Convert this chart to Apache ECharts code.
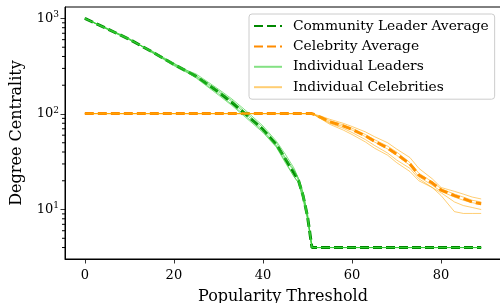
<!DOCTYPE html>
<html>
<head>
<meta charset="utf-8">
<script src="https://cdn.jsdelivr.net/npm/echarts@6/dist/echarts.min.js"></script>
<style>
  html, body { margin: 0; padding: 0; background: #fff; }
  #chart { width: 500px; height: 303px; }
</style>
</head>
<body>
<div id="chart"></div>
<script>
// leader curves, sampled at these thresholds
var leaderX = [0, 5, 10, 15, 20, 25, 30, 33, 36, 40, 43, 45, 47, 48, 49, 50, 51, 89];
var leaderAvg = [1000, 780, 605, 450, 330, 248, 170, 132, 101, 69, 48, 34, 24, 20, 14, 8.5, 4, 4];
var leaderRuns = [
  [1000, 770, 598, 455, 325, 262, 182, 144, 110, 75, 52, 38, 27, 21, 15, 9, 4, 4],
  [1000, 790, 615, 440, 338, 238, 158, 123, 93, 64, 45, 31, 22, 19, 13, 8, 4, 4],
  [1000, 780, 600, 460, 340, 252, 176, 139, 105, 72, 50, 35, 26, 21, 15, 9, 4, 4],
  [1000, 785, 612, 445, 320, 242, 163, 126, 96, 66, 46, 32, 22, 19, 13, 8, 4, 4],
  [1000, 775, 605, 450, 330, 248, 170, 134, 101, 68, 47, 34, 25, 20, 14, 8.5, 4, 4]
];

// celebrity curves
var celebX = [0, 51, 53, 55, 58, 60, 63, 65, 68, 70, 73, 75, 78, 80, 83, 85, 87, 89];
var celebAvg = [101, 101, 92, 83, 75, 69, 59, 52, 44, 38, 30, 23, 19, 16, 14, 13, 12, 11.5];
var celebRuns = [
  [101, 101, 95, 88, 80, 74, 65, 58, 50, 43, 35, 27, 21, 17, 15.5, 14.5, 13.5, 12.9],
  [101, 101, 93, 85, 77, 71, 61, 54, 46, 40, 31, 24, 19.5, 16.5, 14.5, 13.5, 12.5, 12],
  [101, 101, 91, 82, 74, 68, 58, 51, 43, 37, 29, 22, 18, 15.5, 13.5, 12.5, 11.8, 11.3],
  [101, 101, 90, 80, 71, 64, 54, 47, 39, 33, 27, 21, 17, 15, 12, 11, 10.5, 10],
  [101, 101, 89, 78, 68, 61, 51, 44, 37, 31, 25, 20, 17, 14, 9.5, 9.1, 9.1, 9.1]
];

var yMinorTicks = [4, 5, 6, 7, 8, 9, 20, 30, 40, 50, 60, 70, 80, 90, 200, 300, 400, 500, 600, 700, 800, 900];

var xMin = -4.45, xMax = 93.45;
var yMin = 3.035, yMax = 1318;

var serif = 'DejaVu Serif';
var chart = echarts.init(document.getElementById('chart'));

function pairs(xs, ys) {
  return xs.map(function (x, i) { return [x, ys[i]]; });
}

var series = [
  {
    name: 'Community Leader Average',
    type: 'line',
    symbol: 'none',
    data: pairs(leaderX, leaderAvg),
    lineStyle: { color: '#008800', width: 3, type: [9, 4] },
    itemStyle: { color: '#008800' }
  },
  {
    name: 'Celebrity Average',
    type: 'line',
    symbol: 'none',
    data: pairs(celebX, celebAvg),
    lineStyle: { color: '#ff8c00', width: 3, type: [9, 4] },
    itemStyle: { color: '#ff8c00' }
  }
];
leaderRuns.forEach(function (run) {
  series.push({
    name: 'Individual Leaders',
    type: 'line',
    symbol: 'none',
    data: pairs(leaderX, run),
    lineStyle: { color: 'rgba(50,205,50,0.6)', width: 1 },
    itemStyle: { color: 'rgba(50,205,50,0.6)' }
  });
});
celebRuns.forEach(function (run) {
  series.push({
    name: 'Individual Celebrities',
    type: 'line',
    symbol: 'none',
    data: pairs(celebX, run),
    lineStyle: { color: 'rgba(255,165,0,0.55)', width: 1 },
    itemStyle: { color: 'rgba(255,165,0,0.55)' }
  });
});
// log minor ticks on the left spine
series.push({
  type: 'custom',
  silent: true,
  clip: false,
  z: 5,
  data: yMinorTicks.map(function (v) { return [xMin, v]; }),
  renderItem: function (params, api) {
    var p = api.coord([api.value(0), api.value(1)]);
    return {
      type: 'line',
      shape: { x1: p[0] - 3, y1: p[1], x2: p[0], y2: p[1] },
      style: { stroke: '#000', lineWidth: 1 }
    };
  }
});

var option = {
  animation: false,
  grid: {
    left: 65, right: -1, top: 7, bottom: 44,
    outerBoundsMode: 'none',
    containLabel: false,
    show: true, borderColor: '#000', borderWidth: 1, backgroundColor: 'transparent'
  },
  legend: {
    data: ['Community Leader Average', 'Celebrity Average', 'Individual Leaders', 'Individual Celebrities'],
    orient: 'vertical',
    left: 249, top: 14,
    itemWidth: 28, itemHeight: 14, itemGap: 6.4,
    padding: [5, 6, 5, 4],
    backgroundColor: 'rgba(255,255,255,0.8)',
    borderColor: '#cccccc', borderWidth: 1, borderRadius: 3,
    itemStyle: { opacity: 0 },
    textStyle: { fontFamily: serif, fontSize: 13.8, color: '#000', padding: [0, 0, 0, 6] }
  },
  xAxis: {
    type: 'value',
    min: xMin, max: xMax,
    splitNumber: 5,
    name: 'Popularity Threshold',
    nameLocation: 'middle',
    nameGap: 30,
    nameTextStyle: { fontFamily: serif, fontSize: 16, color: '#000' },
    axisLine: { show: true, onZero: false, lineStyle: { color: '#000', width: 1 } },
    axisTick: { show: true, inside: false, length: 4.5, lineStyle: { color: '#000', width: 0.8 } },
    axisLabel: { fontFamily: serif, fontSize: 13, color: '#000', margin: 10, showMinLabel: false, showMaxLabel: false },
    splitLine: { show: false }
  },
  yAxis: {
    type: 'log',
    logBase: 10,
    min: yMin, max: yMax,
    name: 'Degree Centrality',
    nameLocation: 'middle',
    nameGap: 40,
    nameTextStyle: { fontFamily: serif, fontSize: 16, color: '#000' },
    axisLine: { show: true, onZero: false, lineStyle: { color: '#000', width: 1 } },
    axisTick: { show: true, inside: false, length: 4.5, lineStyle: { color: '#000', width: 0.8 } },
    axisLabel: {
      fontFamily: serif, fontSize: 13, color: '#000', margin: 6,
      showMinLabel: false, showMaxLabel: false,
      formatter: function (v) {
        var e = Math.round(Math.log10(v));
        return '10{s|' + e + '}';
      },
      rich: {
        s: { fontFamily: serif, fontSize: 9, color: '#000', verticalAlign: 'bottom', padding: [0, 0, 7, 0] }
      }
    },
    splitLine: { show: false }
  },
  series: series
};
chart.setOption(option);
</script>
</body>
</html>
